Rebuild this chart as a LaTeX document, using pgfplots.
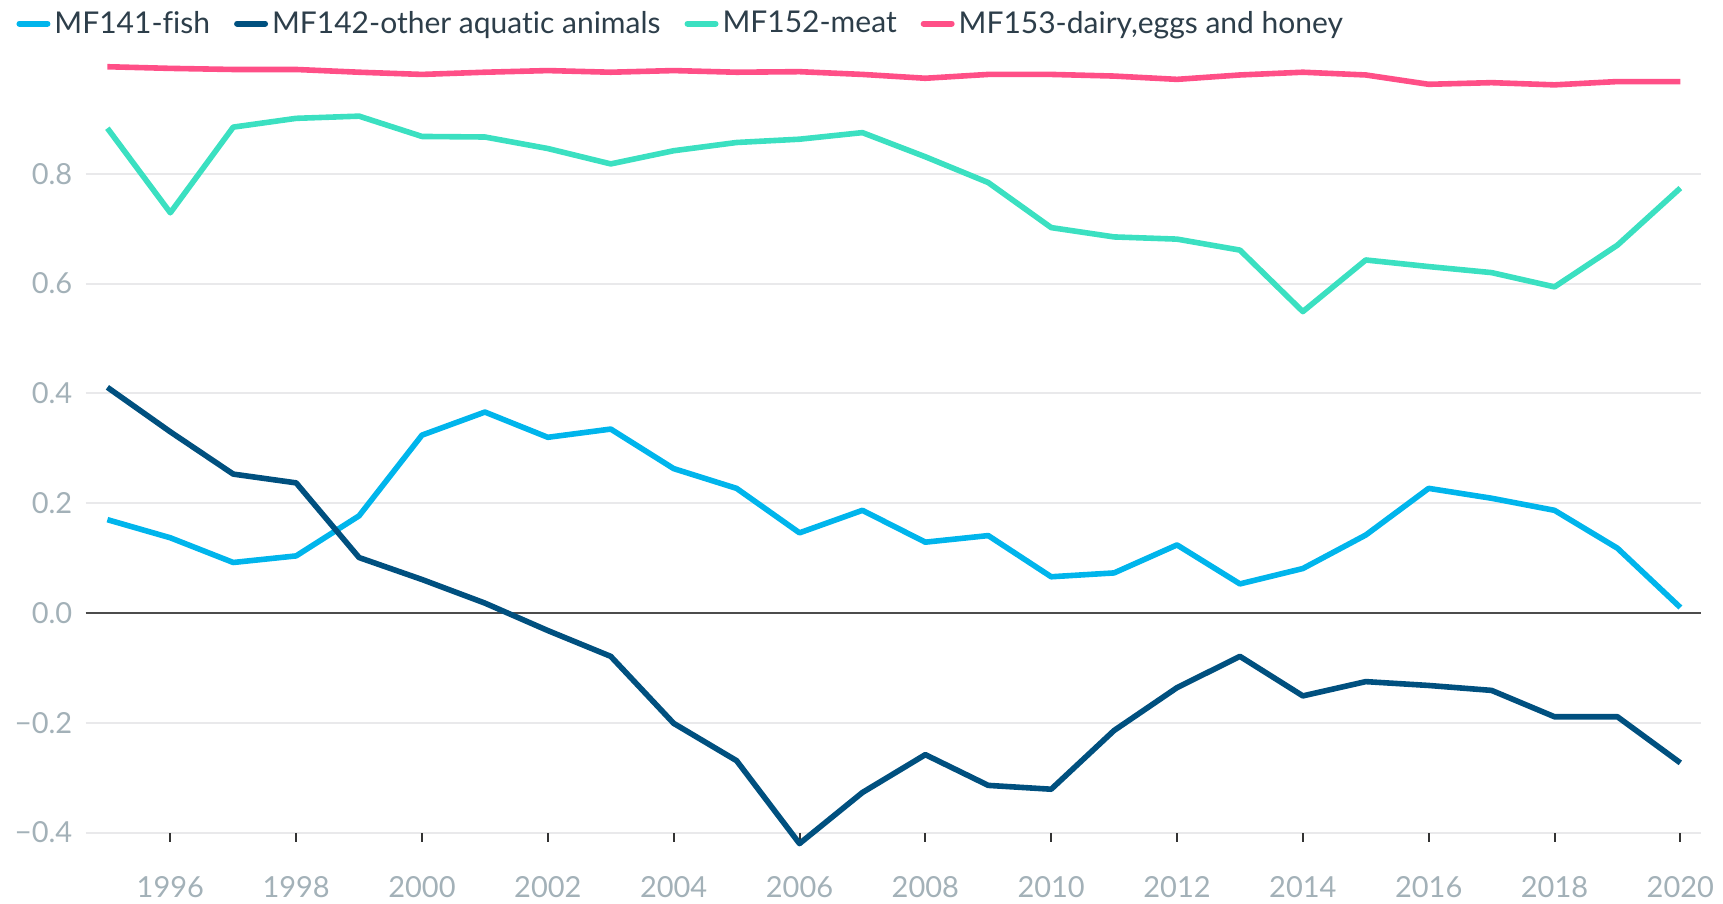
\documentclass[border=0pt]{standalone}
\usepackage{fontspec}
\setmainfont{Lato}[Ligatures=NoCommon]
\usepackage{pgfplots}
\pgfplotsset{compat=1.18}

\definecolor{fishc}{HTML}{00B5EC}
\definecolor{aquac}{HTML}{00507F}
\definecolor{meatc}{HTML}{3BE0C1}
\definecolor{dairyc}{HTML}{FF4F87}
\definecolor{tickc}{HTML}{A3B1B8}
\definecolor{textc}{HTML}{2D3E4A}
\definecolor{gridc}{HTML}{E9E9EB}

\begin{document}
\begin{tikzpicture}
\begin{axis}[
    at={(0,0)}, anchor=south west,
    scale only axis, width=807.7pt, height=384.3pt,
    xmin=1994.655, xmax=2020.33, ymin=-0.4, ymax=1.0,
    clip=false,
    axis line style={draw=none},
    xtick={1996,1998,...,2020},
    xticklabels={1996,1998,2000,2002,2004,2006,2008,2010,2012,2014,2016,2018,2020},
    ytick={-0.4,-0.2,0.2,0.4,0.6,0.8},
    yticklabels={−0.4,−0.2,0.2,0.4,0.6,0.8},
    extra y ticks={0}, extra y tick labels={0.0},
    extra y tick style={grid style={color=black!70, line width=1pt}},
    ymajorgrids=true,
    grid style={gridc, line width=1pt},
    tick align=outside,
    xtick pos=bottom, ytick pos=left,
    major tick length=11.2pt,
    x tick style={black!80, line width=1pt, dash pattern=on 0pt off 6.7pt on 4.5pt},
    y tick style={draw=none},
    xticklabel style={font=\fontsize{14.5}{16}\selectfont, text=tickc, yshift=-7pt},
    yticklabel style={font=\fontsize{14.5}{16}\selectfont, text=tickc, xshift=8pt},
    legend columns=4,
    legend cell align=left,
    legend style={at={(axis description cs:-0.0431,1.0525)}, anchor=west,
                  draw=none, fill=none, inner sep=0pt,
                  font=\fontsize{15}{17}\selectfont, text=textc,
                  /tikz/every even column/.append style={column sep=10pt}},
    legend image code/.code={\draw[#1, line width=3pt, line cap=round] (0pt,0pt) -- (14pt,0pt);},
    every axis plot/.append style={line width=2.8pt, line join=round, mark=none},
  ]
\addplot[fishc] coordinates {
 (1995,0.170) (1996,0.137) (1997,0.092) (1998,0.104) (1999,0.177) (2000,0.324)
 (2001,0.366) (2002,0.320) (2003,0.335) (2004,0.263) (2005,0.227) (2006,0.146)
 (2007,0.187) (2008,0.129) (2009,0.141) (2010,0.066) (2011,0.073) (2012,0.124)
 (2013,0.053) (2014,0.081) (2015,0.142) (2016,0.227) (2017,0.209) (2018,0.187)
 (2019,0.118) (2020,0.010)};
\addlegendentry{MF141-fish}
\addplot[aquac] coordinates {
 (1995,0.411) (1996,0.330) (1997,0.253) (1998,0.237) (1999,0.101) (2000,0.061)
 (2001,0.018) (2002,-0.032) (2003,-0.079) (2004,-0.201) (2005,-0.269) (2006,-0.420)
 (2007,-0.327) (2008,-0.258) (2009,-0.314) (2010,-0.321) (2011,-0.214) (2012,-0.136)
 (2013,-0.079) (2014,-0.151) (2015,-0.125) (2016,-0.132) (2017,-0.141) (2018,-0.189)
 (2019,-0.189) (2020,-0.273)};
\addlegendentry{MF142-other aquatic animals}
\addplot[meatc] coordinates {
 (1995,0.883) (1996,0.729) (1997,0.885) (1998,0.901) (1999,0.905) (2000,0.868)
 (2001,0.867) (2002,0.846) (2003,0.818) (2004,0.842) (2005,0.857) (2006,0.863)
 (2007,0.875) (2008,0.831) (2009,0.784) (2010,0.702) (2011,0.685) (2012,0.681)
 (2013,0.661) (2014,0.549) (2015,0.643) (2016,0.631) (2017,0.620) (2018,0.594)
 (2019,0.670) (2020,0.774)};
\addlegendentry{MF152-meat}
\addplot[dairyc] coordinates {
 (1995,0.995) (1996,0.992) (1997,0.990) (1998,0.990) (1999,0.985) (2000,0.981)
 (2001,0.985) (2002,0.988) (2003,0.985) (2004,0.988) (2005,0.985) (2006,0.986)
 (2007,0.981) (2008,0.974) (2009,0.981) (2010,0.981) (2011,0.978) (2012,0.972)
 (2013,0.980) (2014,0.985) (2015,0.980) (2016,0.963) (2017,0.966) (2018,0.962)
 (2019,0.968) (2020,0.968)};
\addlegendentry{MF153-dairy,eggs and honey}
\end{axis}
\pgfresetboundingbox
\path[use as bounding box] (-42.85pt,-35.7pt) rectangle (818.65pt,416.3pt);
\end{tikzpicture}
\end{document}
